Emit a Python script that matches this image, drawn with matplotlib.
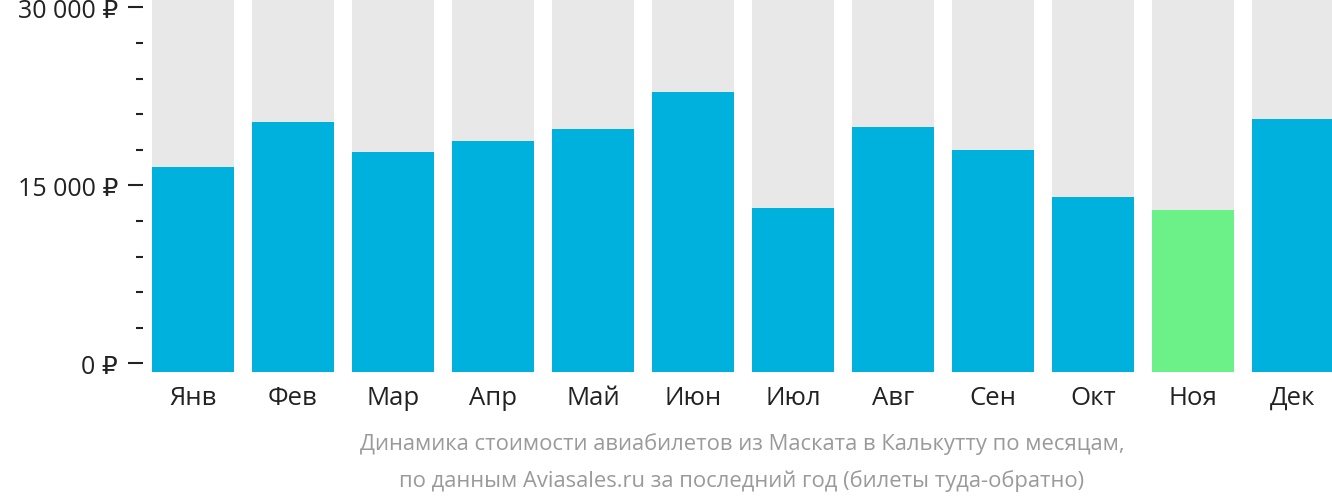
import matplotlib
matplotlib.use("Agg")
import matplotlib.pyplot as plt
from matplotlib.ticker import FixedLocator, FuncFormatter

months = ["Янв", "Фев", "Мар", "Апр", "Май", "Июн", "Июл", "Авг", "Сен", "Окт", "Ноя", "Дек"]
prices = [16540, 20330, 17810, 18730, 19740, 22860, 13090, 19910, 17970, 14010, 12920, 20590]
cheapest = "Ноя"
major_ticks = [0, 15000, 30000]
minor_ticks = [3000, 6000, 9000, 12000, 18000, 21000, 24000, 27000]
caption = ["Динамика стоимости авиабилетов из Маската в Калькутту по месяцам,",
           "по данным Aviasales.ru за последний год (билеты туда-обратно)"]

plt.rcParams['font.family'] = ['Open Sans', 'DejaVu Sans']

W, H = 1332, 502
fig = plt.figure(figsize=(W / 100, H / 100), dpi=100)
ax_left, ax_bottom_px, ax_right = 143, 373.3, 1332
ax = fig.add_axes([ax_left / W, (H - ax_bottom_px) / H, (ax_right - ax_left) / W, ax_bottom_px / H])

ymin, ymax = -758, 30700
ax.set_ylim(ymin, ymax)
x = list(range(len(months)))
ax.set_xlim(-0.5, (ax_right - 193) / 100)

ax.bar(x, [ymax - ymin] * len(x), bottom=ymin, width=0.82, color="#e8e8e8", zorder=1)
colors = ["#6cf088" if m == cheapest else "#00b1dd" for m in months]
ax.bar(x, [p - ymin for p in prices], bottom=ymin, width=0.82, color=colors, zorder=2)

for s in ax.spines.values():
    s.set_visible(False)

ax.yaxis.set_major_locator(FixedLocator(major_ticks))
ax.yaxis.set_minor_locator(FixedLocator(minor_ticks))
ax.yaxis.set_major_formatter(FuncFormatter(lambda v, p: f"{int(v):,}".replace(",", " ") + " ₽"))
ax.tick_params(axis="y", which="major", length=11, width=1.5, color="#222222", pad=7,
               labelsize=18, labelcolor="#222222")
ax.tick_params(axis="y", which="minor", length=5, width=1.5, color="#222222")

ax.set_xticks(x)
ax.set_xticklabels(months)
ax.tick_params(axis="x", length=0, pad=9, labelsize=18.5, labelcolor="#222222")

cx = ((ax_left + 9) + ax_right) / 2 / W
fig.text(cx, 1 - 444 / H, caption[0], ha="center", va="center", fontsize=15.8, color="#9a9a9a")
fig.text(cx, 1 - 481 / H, caption[1], ha="center", va="center", fontsize=15.8, color="#9a9a9a")

fig.savefig("out.png", dpi=100)
